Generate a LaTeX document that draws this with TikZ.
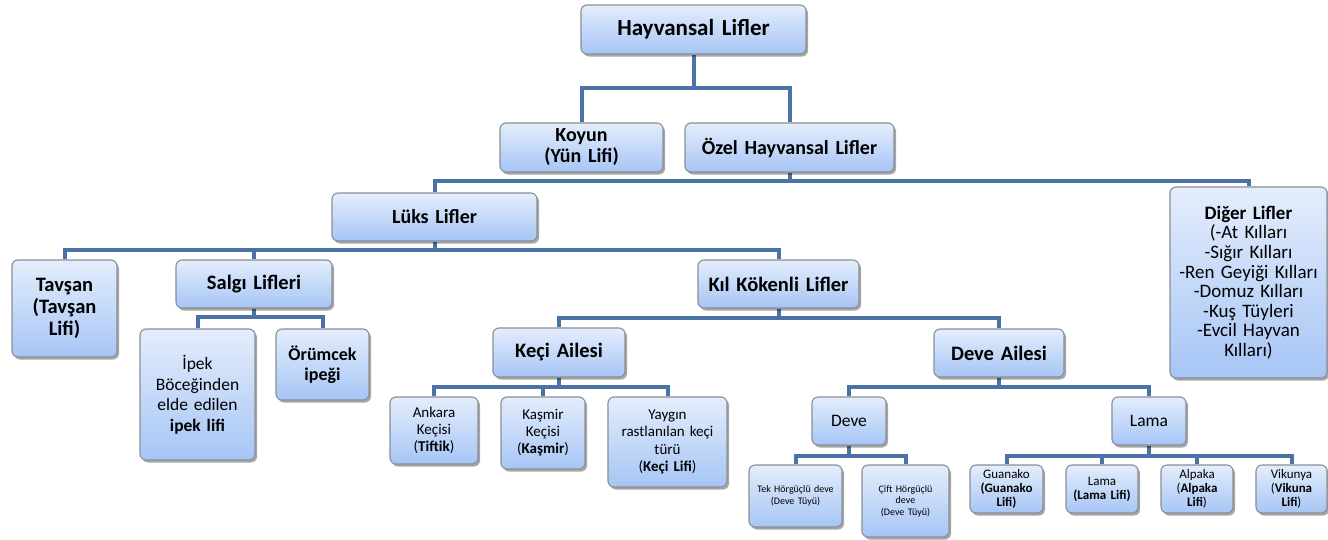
\documentclass[tikz,border=0pt]{standalone}
\usepackage{fontspec}
\setmainfont{Carlito}
\usetikzlibrary{shadows,backgrounds}
\definecolor{boxtop}{HTML}{E4EDFC}
\definecolor{boxbot}{HTML}{A6C5F5}
\definecolor{boxline}{HTML}{8A8F96}
\definecolor{connc}{HTML}{4A72A6}
\newcommand\fs[2]{\fontsize{#1}{#2}\selectfont}
\tikzset{
  box/.style={draw=boxline, line width=1.1pt, rounded corners=6pt,
    top color=boxtop, bottom color=boxbot, align=center, inner sep=0pt,
    drop shadow={shadow xshift=2pt, shadow yshift=-2.5pt, fill=black, opacity=0.35}},
  bb/.style 2 args={box, minimum width=#1pt, minimum height=#2pt, text width=#1pt-4pt},
  conn/.style={draw=connc, line width=4pt, line join=miter}
}
\begin{document}
\begin{tikzpicture}[x=1pt,y=-1pt]
\useasboundingbox (0,0) rectangle (1328,539);
% nodes
\node[bb={225}{49}, font=\fs{23}{24}\bfseries] (top) at (693.5,29.5) {Hayvansal Lifler};
\node[bb={163}{49}, font=\fs{20}{21}\bfseries] (koyun) at (581.5,147.5) {Koyun\\(Yün Lifi)};
\node[bb={209}{49}, font=\fs{20}{21}\bfseries] (ozel) at (789.5,147.5) {Özel Hayvansal Lifler};
\node[bb={205}{48}, font=\fs{20}{21}\bfseries] (luks) at (434.5,217) {Lüks Lifler};
\node[bb={157}{191}, font=\fs{19}{19.6}] (diger) at (1248.5,282.5) {\textbf{Diğer Lifler}\\(-At Kılları\\-Sığır Kılları\\-Ren Geyiği Kılları\\-Domuz Kılları\\-Kuş Tüyleri\\-Evcil Hayvan\\Kılları)};
\node[bb={105}{97}, font=\fs{20.5}{22}\bfseries] (tavsan) at (64.5,308.5) {Tavşan\\(Tavşan\\Lifi)};
\node[bb={156}{48}, font=\fs{20.5}{22}\bfseries] (salgi) at (254,284) {Salgı Lifleri};
\node[bb={161}{48}, font=\fs{20.5}{22}\bfseries] (kil) at (778.5,284) {Kıl Kökenli Lifler};
\node[bb={115}{131}, font=\fs{17.5}{20.5}] (ipek) at (197.5,394.5) {İpek\\Böceğinden\\elde edilen\\\textbf{ipek lifi}};
\node[bb={93}{71}, font=\fs{18}{20}\bfseries] (orumcek) at (322.5,364.5) {Örümcek\\ipeği};
\node[bb={132}{49}, font=\fs{20.5}{22}\bfseries] (keci) at (559,352.5) {Keçi Ailesi};
\node[bb={130}{48}, font=\fs{20.5}{22}\bfseries] (deveA) at (999,353) {Deve Ailesi};
\node[bb={88}{67}, font=\fs{15}{17}] (ankara) at (434,430.5) {Ankara\\Keçisi\\(\textbf{Tiftik})};
\node[bb={84}{72}, font=\fs{15}{17}] (kasmir) at (543,433) {Kaşmir\\Keçisi\\(\textbf{Kaşmir})};
\node[bb={119}{90}, font=\fs{15}{17.3}] (yaygin) at (667.5,442) {Yaygın\\rastlanılan keçi\\türü\\(\textbf{Keçi Lifi})};
\node[bb={74}{48}, font=\fs{17.5}{19}] (deve) at (849,421) {Deve};
\node[bb={74}{48}, font=\fs{17.5}{19}] (lama) at (1149,421) {Lama};
\node[bb={93}{62}, font=\fs{10}{11.5}] (tek) at (795.5,496) {Tek Hörgüçlü deve\\(Deve Tüyü)};
\node[bb={87}{72}, font=\fs{10}{11.5}] (cift) at (905.5,501) {Çift Hörgüçlü\\deve\\(Deve Tüyü)};
\node[bb={73}{48}, font=\fs{13}{14.3}] (guanako) at (1006.5,489) {Guanako\\\textbf{(Guanako}\\\textbf{Lifi)}};
\node[bb={72}{48}, font=\fs{13}{14.3}] (lamalifi) at (1102,489) {Lama\\\textbf{(Lama Lifi)}};
\node[bb={72}{48}, font=\fs{13}{14.3}] (alpaka) at (1197,489) {Alpaka\\(\textbf{Alpaka}\\\textbf{Lifi})};
\node[bb={71}{48}, font=\fs{13}{14.3}] (vikunya) at (1291.5,489) {Vikunya\\(\textbf{Vikuna}\\\textbf{Lifi})};
% bus coordinates
\coordinate (b0) at (0,88);
\coordinate (b1) at (0,181);
\coordinate (b2) at (0,250);
\coordinate (b3) at (0,317);
\coordinate (b4) at (0,318);
\coordinate (b5) at (0,387);
\coordinate (b6) at (0,387);
\coordinate (b7) at (0,456);
\coordinate (b8) at (0,456);
\begin{scope}[on background layer]
\fill[white] (0,0) rectangle (1328,539);
\draw[conn] (top.south) -- (top.south |- b0) -| (koyun.north);
\draw[conn] (top.south |- b0) -| (ozel.north);
\draw[conn] (ozel.south) -- (ozel.south |- b1) -| (luks.north);
\draw[conn] (ozel.south |- b1) -| (diger.north);
\draw[conn] (luks.south) -- (luks.south |- b2) -| (tavsan.north);
\draw[conn] (luks.south |- b2) -| (salgi.north);
\draw[conn] (luks.south |- b2) -| (kil.north);
\draw[conn] (salgi.south) -- (salgi.south |- b3) -| (ipek.north);
\draw[conn] (salgi.south |- b3) -| (orumcek.north);
\draw[conn] (kil.south) -- (kil.south |- b4) -| (keci.north);
\draw[conn] (kil.south |- b4) -| (deveA.north);
\draw[conn] (keci.south) -- (keci.south |- b5) -| (ankara.north);
\draw[conn] (keci.south |- b5) -| (kasmir.north);
\draw[conn] (keci.south |- b5) -| (yaygin.north);
\draw[conn] (deveA.south) -- (deveA.south |- b6) -| (deve.north);
\draw[conn] (deveA.south |- b6) -| (lama.north);
\draw[conn] (deve.south) -- (deve.south |- b7) -| (tek.north);
\draw[conn] (deve.south |- b7) -| (cift.north);
\draw[conn] (lama.south) -- (lama.south |- b8) -| (guanako.north);
\draw[conn] (lama.south |- b8) -| (lamalifi.north);
\draw[conn] (lama.south |- b8) -| (alpaka.north);
\draw[conn] (lama.south |- b8) -| (vikunya.north);
\end{scope}
\end{tikzpicture}
\end{document}
